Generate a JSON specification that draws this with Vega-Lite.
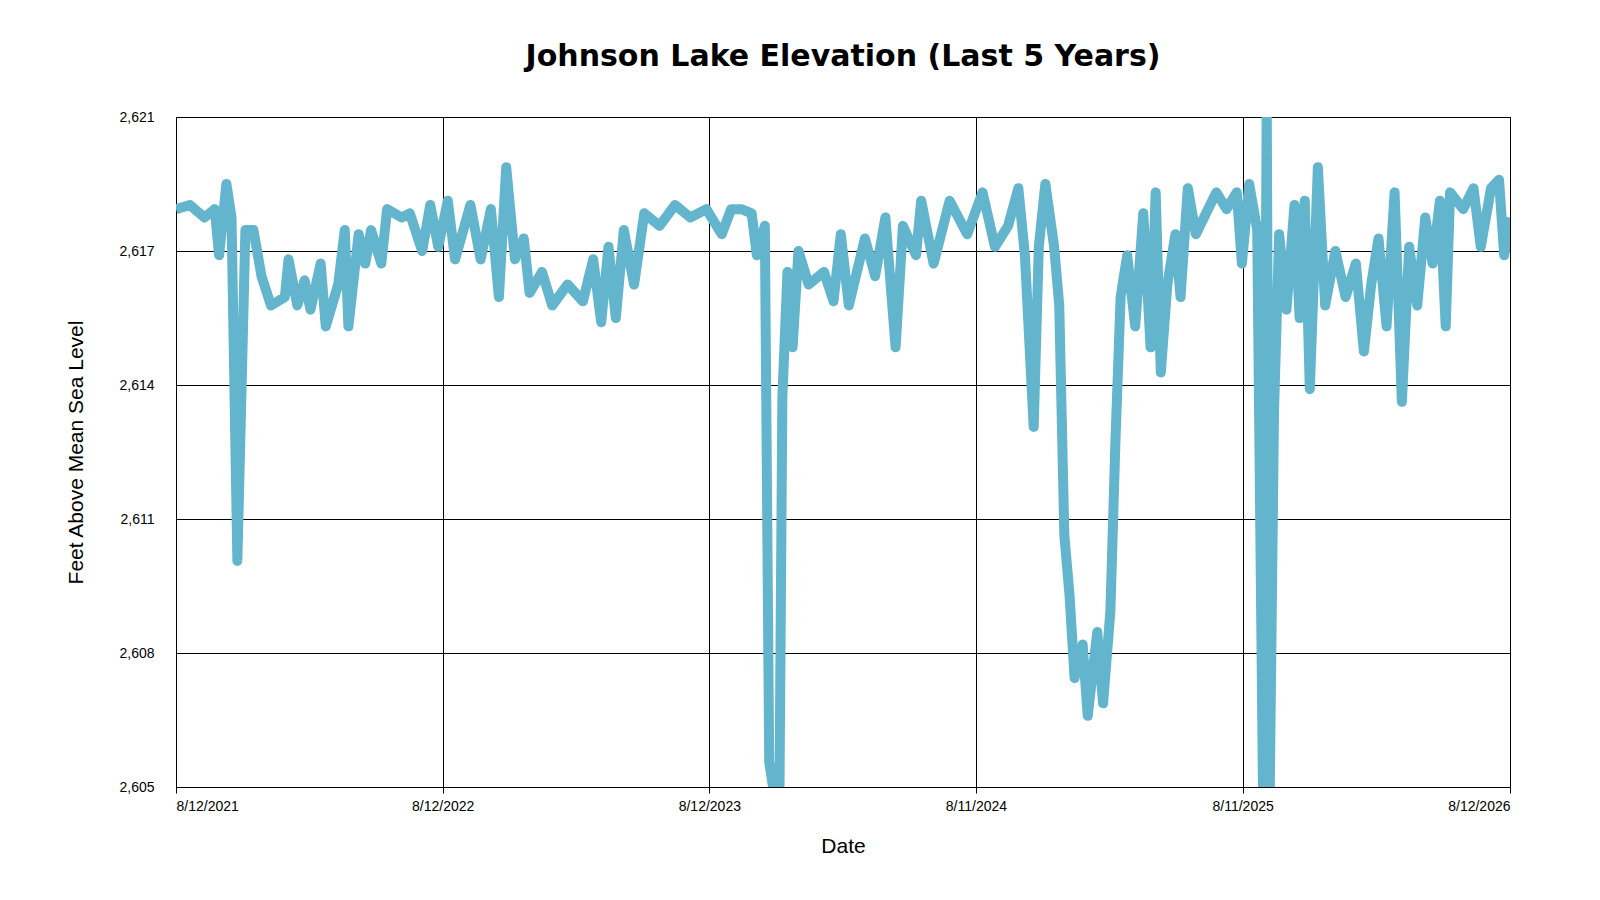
{
  "$schema": "https://vega.github.io/schema/vega-lite/v6.json",
  "width": 1334,
  "height": 670,
  "autosize": "none",
  "padding": {"left": 176, "top": 117, "right": 90, "bottom": 113},
  "background": "white",
  "title": {"text": "Johnson Lake Elevation (Last 5 Years)", "font": "DejaVu Sans", "fontSize": 30, "fontWeight": "bold", "color": "black", "offset": 38},
  "config": {"view": {"stroke": "black"}, "axis": {"gridColor": "black", "gridOpacity": 1, "domainColor": "black", "tickColor": "black", "labelColor": "black", "titleColor": "black", "labelFont": "Liberation Sans", "titleFont": "Liberation Sans", "labelFontSize": 14, "titleFontSize": 21, "titleFontWeight": "normal"}},
  "data": {"values": [
    {"date": "2021-08-12", "ft": 2618.4}, {"date": "2021-08-31", "ft": 2618.5}, {"date": "2021-09-20", "ft": 2618.2}, {"date": "2021-10-04", "ft": 2618.4},
    {"date": "2021-10-10", "ft": 2617.3}, {"date": "2021-10-20", "ft": 2619.0}, {"date": "2021-10-27", "ft": 2618.2}, {"date": "2021-11-04", "ft": 2610.0},
    {"date": "2021-11-15", "ft": 2617.9}, {"date": "2021-11-26", "ft": 2617.9}, {"date": "2021-12-07", "ft": 2616.8}, {"date": "2021-12-20", "ft": 2616.1},
    {"date": "2022-01-08", "ft": 2616.3}, {"date": "2022-01-13", "ft": 2617.2}, {"date": "2022-01-25", "ft": 2616.1}, {"date": "2022-02-04", "ft": 2616.7},
    {"date": "2022-02-12", "ft": 2616.0}, {"date": "2022-02-26", "ft": 2617.1}, {"date": "2022-03-05", "ft": 2615.6}, {"date": "2022-03-22", "ft": 2616.6},
    {"date": "2022-03-31", "ft": 2617.9}, {"date": "2022-04-05", "ft": 2615.6}, {"date": "2022-04-19", "ft": 2617.8}, {"date": "2022-04-28", "ft": 2617.1},
    {"date": "2022-05-06", "ft": 2617.9}, {"date": "2022-05-20", "ft": 2617.1}, {"date": "2022-05-28", "ft": 2618.4}, {"date": "2022-06-17", "ft": 2618.2},
    {"date": "2022-06-28", "ft": 2618.3}, {"date": "2022-07-15", "ft": 2617.4}, {"date": "2022-07-26", "ft": 2618.5}, {"date": "2022-08-06", "ft": 2617.5},
    {"date": "2022-08-19", "ft": 2618.6}, {"date": "2022-08-29", "ft": 2617.2}, {"date": "2022-09-19", "ft": 2618.5}, {"date": "2022-10-03", "ft": 2617.2},
    {"date": "2022-10-17", "ft": 2618.4}, {"date": "2022-10-28", "ft": 2616.3}, {"date": "2022-11-07", "ft": 2619.4}, {"date": "2022-11-19", "ft": 2617.2},
    {"date": "2022-12-01", "ft": 2617.7}, {"date": "2022-12-09", "ft": 2616.4}, {"date": "2022-12-26", "ft": 2616.9}, {"date": "2023-01-09", "ft": 2616.1},
    {"date": "2023-01-30", "ft": 2616.6}, {"date": "2023-02-20", "ft": 2616.2}, {"date": "2023-03-06", "ft": 2617.2}, {"date": "2023-03-17", "ft": 2615.7},
    {"date": "2023-03-27", "ft": 2617.5}, {"date": "2023-04-06", "ft": 2615.8}, {"date": "2023-04-17", "ft": 2617.9}, {"date": "2023-05-01", "ft": 2616.6},
    {"date": "2023-05-15", "ft": 2618.3}, {"date": "2023-06-05", "ft": 2618.0}, {"date": "2023-06-26", "ft": 2618.5}, {"date": "2023-07-17", "ft": 2618.2},
    {"date": "2023-08-08", "ft": 2618.4}, {"date": "2023-08-29", "ft": 2617.8}, {"date": "2023-09-11", "ft": 2618.4}, {"date": "2023-09-25", "ft": 2618.4},
    {"date": "2023-10-09", "ft": 2618.3}, {"date": "2023-10-16", "ft": 2617.3}, {"date": "2023-10-27", "ft": 2618.0}, {"date": "2023-11-02", "ft": 2605.2},
    {"date": "2023-11-09", "ft": 2604.4}, {"date": "2023-11-16", "ft": 2604.4}, {"date": "2023-11-20", "ft": 2613.9}, {"date": "2023-11-27", "ft": 2616.9},
    {"date": "2023-12-04", "ft": 2615.1}, {"date": "2023-12-12", "ft": 2617.4}, {"date": "2023-12-26", "ft": 2616.6}, {"date": "2024-01-16", "ft": 2616.9},
    {"date": "2024-01-29", "ft": 2616.2}, {"date": "2024-02-08", "ft": 2617.8}, {"date": "2024-02-19", "ft": 2616.1}, {"date": "2024-03-12", "ft": 2617.7},
    {"date": "2024-03-26", "ft": 2616.8}, {"date": "2024-04-09", "ft": 2618.2}, {"date": "2024-04-23", "ft": 2615.1}, {"date": "2024-05-03", "ft": 2618.0},
    {"date": "2024-05-21", "ft": 2617.3}, {"date": "2024-05-28", "ft": 2618.6}, {"date": "2024-06-14", "ft": 2617.1}, {"date": "2024-07-06", "ft": 2618.6},
    {"date": "2024-07-30", "ft": 2617.8}, {"date": "2024-08-20", "ft": 2618.8}, {"date": "2024-09-06", "ft": 2617.5}, {"date": "2024-09-24", "ft": 2618.0},
    {"date": "2024-10-08", "ft": 2618.9}, {"date": "2024-10-17", "ft": 2617.3}, {"date": "2024-10-29", "ft": 2613.2}, {"date": "2024-11-05", "ft": 2617.5},
    {"date": "2024-11-14", "ft": 2619.0}, {"date": "2024-11-26", "ft": 2617.5}, {"date": "2024-12-03", "ft": 2616.1}, {"date": "2024-12-10", "ft": 2610.6},
    {"date": "2024-12-17", "ft": 2609.2}, {"date": "2024-12-24", "ft": 2607.2}, {"date": "2025-01-04", "ft": 2608.0}, {"date": "2025-01-11", "ft": 2606.3},
    {"date": "2025-01-24", "ft": 2608.3}, {"date": "2025-02-01", "ft": 2606.6}, {"date": "2025-02-11", "ft": 2608.8}, {"date": "2025-02-18", "ft": 2612.9},
    {"date": "2025-02-25", "ft": 2616.3}, {"date": "2025-03-06", "ft": 2617.3}, {"date": "2025-03-17", "ft": 2615.6}, {"date": "2025-03-28", "ft": 2618.3},
    {"date": "2025-04-07", "ft": 2615.1}, {"date": "2025-04-14", "ft": 2618.8}, {"date": "2025-04-21", "ft": 2614.5}, {"date": "2025-04-30", "ft": 2616.6},
    {"date": "2025-05-11", "ft": 2617.8}, {"date": "2025-05-18", "ft": 2616.3}, {"date": "2025-05-28", "ft": 2618.9}, {"date": "2025-06-08", "ft": 2617.8},
    {"date": "2025-06-22", "ft": 2618.3}, {"date": "2025-07-06", "ft": 2618.8}, {"date": "2025-07-20", "ft": 2618.4}, {"date": "2025-08-03", "ft": 2618.8},
    {"date": "2025-08-10", "ft": 2617.1}, {"date": "2025-08-20", "ft": 2619.0}, {"date": "2025-08-31", "ft": 2617.9}, {"date": "2025-09-08", "ft": 2604.3},
    {"date": "2025-09-13", "ft": 2621.0}, {"date": "2025-09-17", "ft": 2604.3}, {"date": "2025-09-23", "ft": 2613.6}, {"date": "2025-09-30", "ft": 2617.8},
    {"date": "2025-10-10", "ft": 2616.0}, {"date": "2025-10-21", "ft": 2618.5}, {"date": "2025-10-28", "ft": 2615.8}, {"date": "2025-11-04", "ft": 2618.6},
    {"date": "2025-11-11", "ft": 2614.1}, {"date": "2025-11-22", "ft": 2619.4}, {"date": "2025-12-02", "ft": 2616.1}, {"date": "2025-12-16", "ft": 2617.4},
    {"date": "2025-12-30", "ft": 2616.3}, {"date": "2026-01-13", "ft": 2617.1}, {"date": "2026-01-24", "ft": 2615.0}, {"date": "2026-02-03", "ft": 2616.6},
    {"date": "2026-02-13", "ft": 2617.7}, {"date": "2026-02-24", "ft": 2615.6}, {"date": "2026-03-07", "ft": 2618.8}, {"date": "2026-03-17", "ft": 2613.8},
    {"date": "2026-03-27", "ft": 2617.5}, {"date": "2026-04-07", "ft": 2616.1}, {"date": "2026-04-18", "ft": 2618.2}, {"date": "2026-04-28", "ft": 2617.1},
    {"date": "2026-05-08", "ft": 2618.6}, {"date": "2026-05-16", "ft": 2615.6}, {"date": "2026-05-22", "ft": 2618.8}, {"date": "2026-06-09", "ft": 2618.4},
    {"date": "2026-06-23", "ft": 2618.9}, {"date": "2026-07-03", "ft": 2617.5}, {"date": "2026-07-17", "ft": 2618.9}, {"date": "2026-07-28", "ft": 2619.1},
    {"date": "2026-08-04", "ft": 2617.3}, {"date": "2026-08-12", "ft": 2618.2}
  ]},
  "mark": {"type": "line", "color": "#62b5cc", "strokeWidth": 10, "clip": true, "strokeJoin": "round"},
  "encoding": {
    "x": {"field": "date", "type": "temporal", "title": "Date",
      "scale": {"type": "utc", "domain": ["2021-08-12", "2026-08-12"]},
      "axis": {"values": ["2021-08-12", "2022-08-12", "2023-08-12", "2024-08-11", "2025-08-11", "2026-08-12"], "format": "%-m/%-d/%Y", "labelPadding": 6, "titlePadding": 22, "tickSize": 6}},
    "y": {"field": "ft", "type": "quantitative", "title": "Feet Above Mean Sea Level",
      "scale": {"domain": [2604.6, 2620.6], "nice": false, "zero": false},
      "axis": {"values": [2604.6, 2607.8, 2611.0, 2614.2, 2617.4, 2620.6], "format": ",.0f", "tickSize": 0, "labelPadding": 22, "titlePadding": 32}}
  }
}
